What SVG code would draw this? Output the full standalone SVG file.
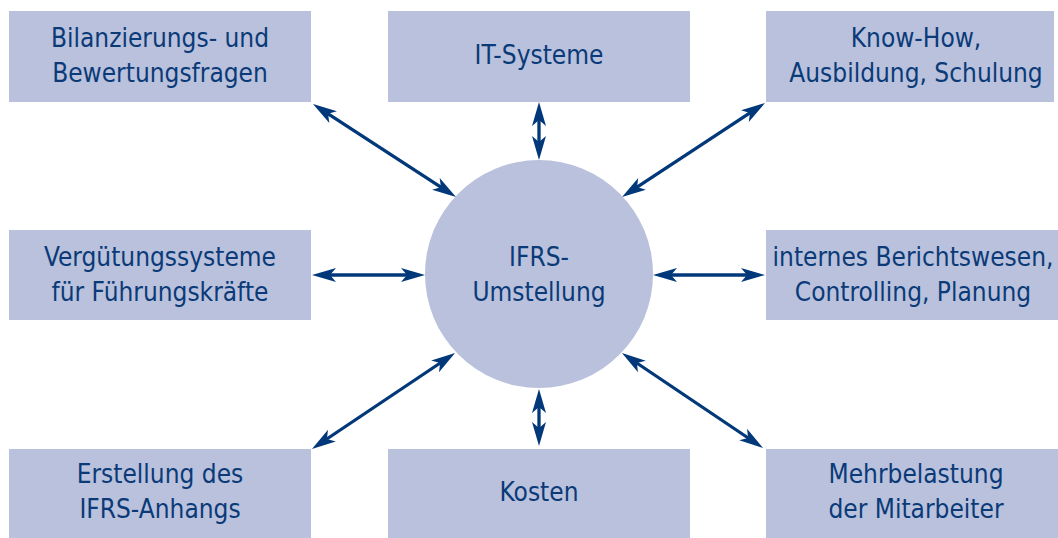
<svg xmlns="http://www.w3.org/2000/svg" width="1058" height="538" viewBox="0 0 1058 538">
<style>
.box{fill:#b9c1dc;}
.t{font-family:"DejaVu Sans Condensed","Liberation Sans",sans-serif;font-size:26px;fill:#0a3a78;text-anchor:middle;}
.c{stroke:#003879;stroke-width:3.3;fill:none;marker-start:url(#ah);marker-end:url(#ah);}
</style>
<defs>
<marker id="ah" markerUnits="userSpaceOnUse" orient="auto-start-reverse" refX="0" refY="0" markerWidth="30" markerHeight="20" overflow="visible">
<path d="M8,0 L-16,-7 L-10,0 L-16,7 Z" fill="#003879"/>
</marker>
</defs>
<rect width="1058" height="538" fill="#ffffff"/>
<g id="connectors">
<line class="c" x1="319.7" y1="108.4" x2="449.3" y2="192.6"/>
<line class="c" x1="539" y1="110" x2="539" y2="152"/>
<line class="c" x1="758.3" y1="107.4" x2="628.7" y2="192.6"/>
<line class="c" x1="320" y1="275" x2="417" y2="275"/>
<line class="c" x1="661" y1="275" x2="757" y2="275"/>
<line class="c" x1="448.4" y1="357.5" x2="318.6" y2="444.5"/>
<line class="c" x1="539" y1="397" x2="539" y2="438"/>
<line class="c" x1="628.6" y1="357.5" x2="756.4" y2="443.5"/>
</g>
<g id="center">
<circle cx="539" cy="274" r="114" class="box"/>
<text class="t" x="539" y="266">IFRS-</text>
<text class="t" x="539" y="301">Umstellung</text>
</g>
<g id="bilanzierung">
<rect class="box" x="9" y="11" width="302" height="91"/>
<text class="t" x="160" y="47">Bilanzierungs- und</text>
<text class="t" x="160" y="82">Bewertungsfragen</text>
</g>
<g id="it-systeme">
<rect class="box" x="388" y="11" width="302" height="91"/>
<text class="t" x="539" y="64">IT-Systeme</text>
</g>
<g id="knowhow">
<rect class="box" x="766" y="11" width="288" height="91"/>
<text class="t" x="916" y="47">Know-How,</text>
<text class="t" x="916" y="82">Ausbildung, Schulung</text>
</g>
<g id="verguetung">
<rect class="box" x="9" y="230" width="302" height="90"/>
<text class="t" x="160" y="266">Vergütungssysteme</text>
<text class="t" x="160" y="301">für Führungskräfte</text>
</g>
<g id="berichtswesen">
<rect class="box" x="766" y="230" width="292" height="90"/>
<text class="t" x="913" y="266">internes Berichtswesen,</text>
<text class="t" x="913" y="301">Controlling, Planung</text>
</g>
<g id="anhang">
<rect class="box" x="9" y="449" width="302" height="89"/>
<text class="t" x="160" y="483">Erstellung des</text>
<text class="t" x="160" y="518">IFRS-Anhangs</text>
</g>
<g id="kosten">
<rect class="box" x="388" y="449" width="302" height="89"/>
<text class="t" x="539" y="501">Kosten</text>
</g>
<g id="mehrbelastung">
<rect class="box" x="766" y="449" width="292" height="89"/>
<text class="t" x="916" y="483">Mehrbelastung</text>
<text class="t" x="916" y="518">der Mitarbeiter</text>
</g>
</svg>
